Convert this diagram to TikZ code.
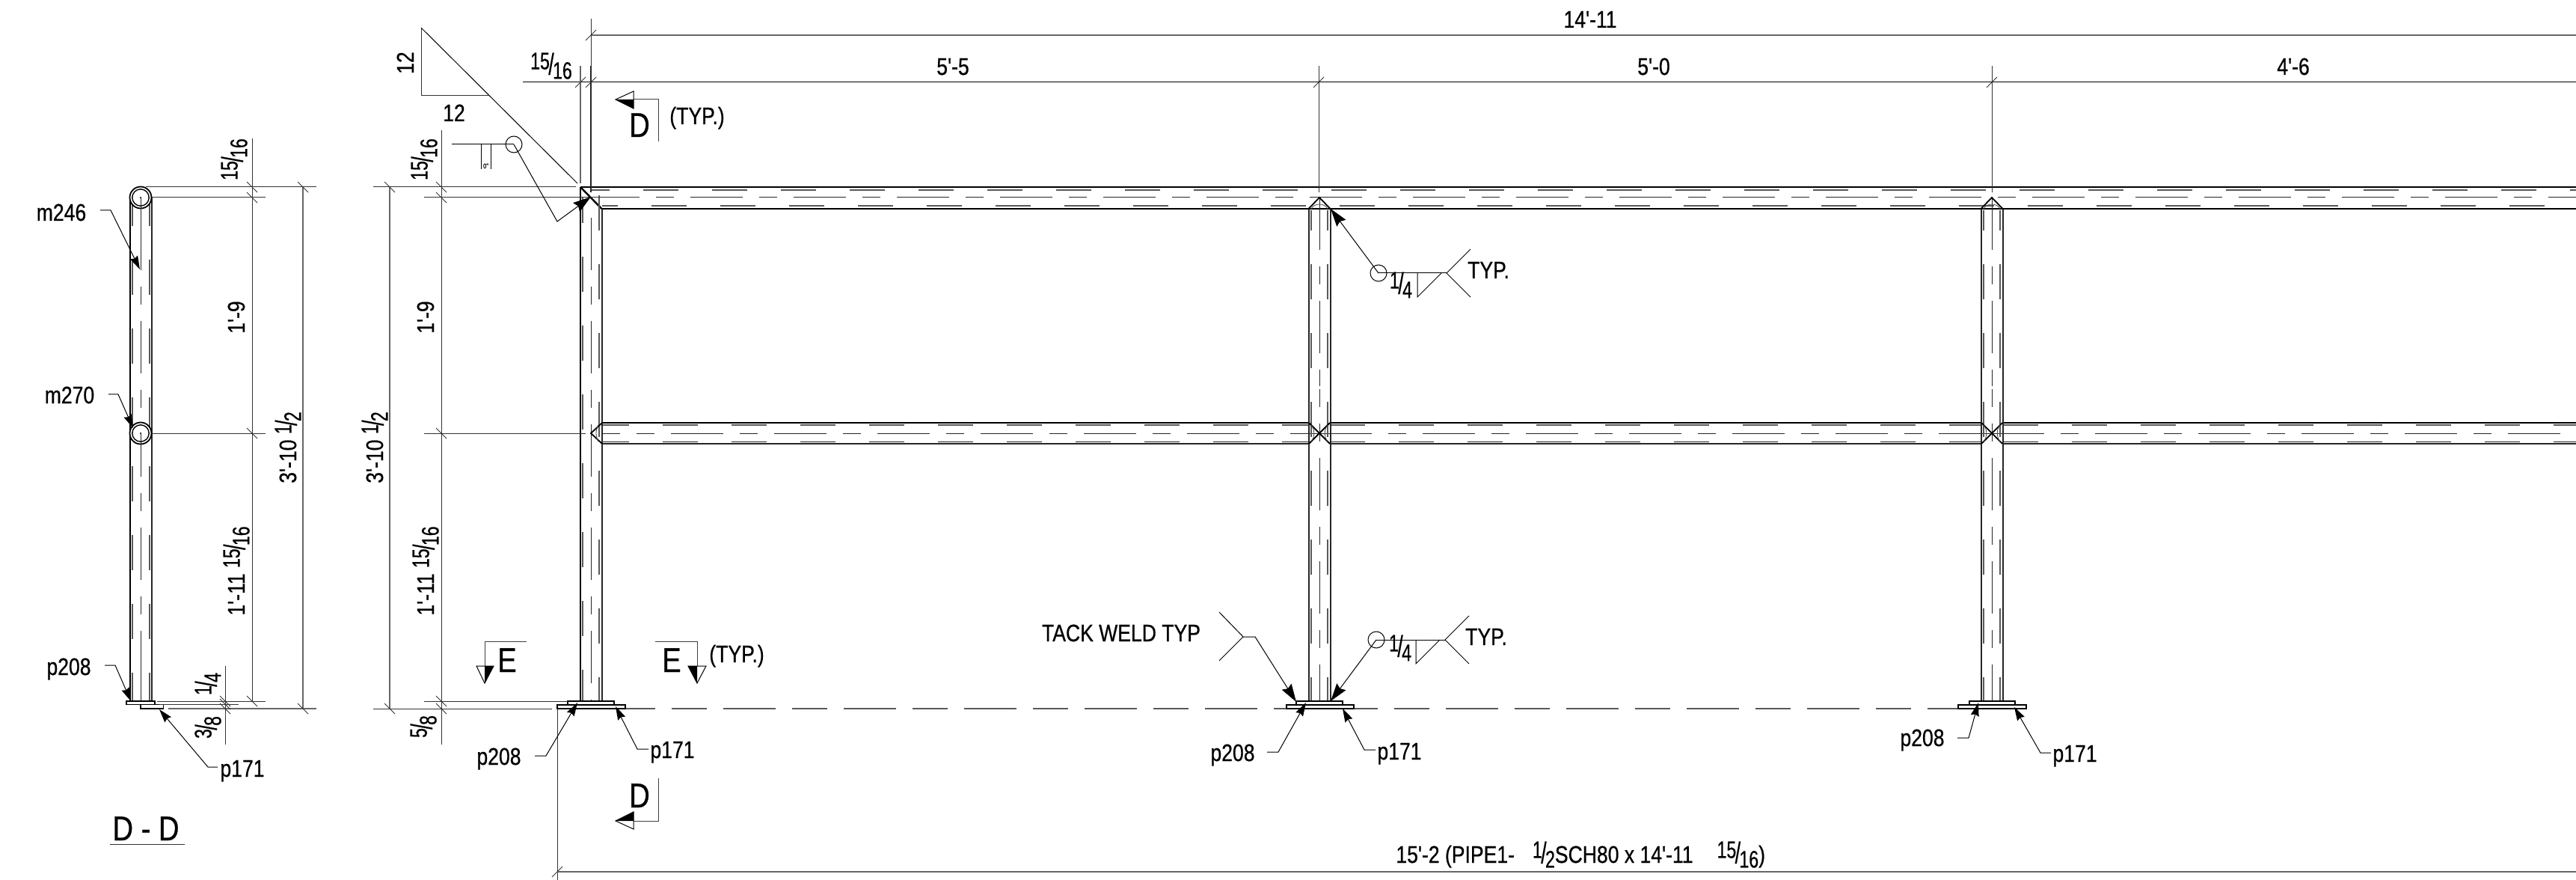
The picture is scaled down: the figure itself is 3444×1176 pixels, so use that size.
\documentclass[tikz,border=0pt]{standalone}
\usepackage{fontspec}
\usetikzlibrary{arrows.meta}
\newfontfamily\dimf[FakeStretch=0.83,FakeBold=0.6]{Liberation Sans}
\newcommand{\frc}[2]{\raisebox{.2em}{\scalebox{.87}[1]{#1}}\kern-.05em\raisebox{-.02em}{\scalebox{1}[1.25]{/}}\kern-.05em\raisebox{-.2em}{\scalebox{.87}[1]{#2}}}
\newcommand{\tkh}[2]{\draw[dimln] ({#1-7},{#2+7}) -- ({#1+7},{#2-7});}
\newcommand{\tkv}[2]{\draw[dimln] ({#1-7},{#2-7}) -- ({#1+7},{#2+7});}
\tikzset{
  lab/.style={font=\dimf\fontsize{16}{17}\selectfont,inner sep=0pt,anchor=base,text=black},
  rlab/.style={lab,rotate=90},
  big/.style={font=\dimf\fontsize{23}{25}\selectfont,inner sep=0pt,anchor=base,text=black},
  dimln/.style={line width=.5pt,black!80},
  dimg/.style={line width=.7pt,black!60},
  thinln/.style={line width=.5pt,black},
  edgethick/.style={line width=1.2pt,black},
  edgemid/.style={line width=1pt,black!85},
  hid/.style={line width=.65pt,black!65,dash pattern=on 23.5pt off 22.5pt},
  hidb/.style={line width=.45pt,black!85,dash pattern=on 23.5pt off 22.5pt},
  ctr/.style={line width=.5pt,black!85,dash pattern=on 35pt off 11pt on 12pt off 11pt},
  floorln/.style={line width=.65pt,black!65,dash pattern=on 35pt off 11pt on 23.5pt off 11pt},
  weldln/.style={line width=.9pt,black},
  arcln/.style={line width=.4pt,black!70},
  plate/.style={line width=.9pt,black,fill=white},
  lead/.style={line width=.5pt,black,-{Stealth[length=9pt,width=5.5pt,inset=1pt]}},
  leadbig/.style={line width=.5pt,black,-{Stealth[length=12pt,width=7.5pt,inset=1.5pt]}},
  secline/.style={line width=.5pt,black!75},
  tri/.style={line width=.5pt,black!80},
}
\begin{document}
\begin{tikzpicture}[x=.5pt,y=-.5pt]
\useasboundingbox (0,0) rectangle (3444,1176);
\clip (0,0) rectangle (3444,1176);

%%%%% section D-D
\draw[hid,dash phase=4.5pt] (177,264) -- (177,937);
\draw[hid,dash phase=4.5pt] (200,264) -- (200,937);
\draw[ctr,dash phase=55.5pt] (188,264) -- (188,937);
\draw[ctr] (188,913) -- (188,937);
\draw[edgethick] (174,264) -- (174,937);
\draw[edgemid] (203,264) -- (203,937);
\foreach \cy in {264,579}{
  \draw[line width=.9pt,fill=white] (188,\cy) circle[radius=7.25pt];
  \draw[line width=.7pt] (188,\cy) circle[radius=5.6pt];
  \fill (188,\cy) circle[radius=.6pt];
}
\draw[ctr,dash pattern=] (188,264) -- (188,361);
\draw[ctr,dash pattern=] (188,579) -- (188,637);
\draw[plate] (169,937) rectangle (207,941.5);
\draw[plate] (188,941.5) rectangle (218.5,947);

\draw[dimln] (195,250) -- (423,250);
\draw[dimln] (203,264) -- (355,264);
\draw[dimln] (203,579) -- (355,579);
\draw[dimln] (210,937) -- (355,937);
\draw[dimln] (213,941) -- (319,941);
\draw[dimg] (225,947) -- (423,947);
\draw[dimln] (337,185) -- (337,937);
\draw[dimg] (405,250) -- (405,947);
\draw[dimln] (301,890) -- (301,995);
\tkv{337}{250}\tkv{337}{264}\tkv{337}{579}\tkv{337}{937}\tkv{405}{250}\tkv{405}{947}
\tkv{301}{937}\tkv{301}{941}\tkv{301}{947}

\node[lab] (tm246) at (82,295) {m246};
\draw[lead] (134,281) -- (148,281) -- (187,360);
\node[lab] (tm270) at (93,539) {m270};
\draw[lead] (145,527) -- (158,527) -- (178,572);
\node[lab] (tpa) at (92,902) {p208};
\draw[lead] (140,889) -- (154,889) -- (175,937);
\node[lab] (tpb) at (324,1038) {p171};
\draw[lead] (291,1025) -- (278,1025) -- (213,948);

\node[rlab] (d1) at (324,213) {\frc{15}{16}};
\node[rlab] (d2) at (327,424) {1'-9};
\node[rlab] (d3) at (327,763) {1'-11 \frc{15}{16}};
\node[rlab] (d4) at (396,598) {3'-10 \frc{1}{2}};
\node[rlab] (d5) at (289,914) {\frc{1}{4}};
\node[rlab] (d6) at (289,972) {\frc{3}{8}};
\node[big] (ttl) at (195,1123) {D - D};
\draw[dimln] (147,1128) -- (247,1128);

%%%%% main elevation : rails
\draw[hid,dash phase=11pt] (790,254) -- (3444,254);
\draw[hid,dash phase=13pt] (805,275) -- (3444,275);
\draw[ctr] (785,264) -- (3444,264);
\draw[edgethick,line width=1.3pt] (776,250) -- (3444,250);
\draw[edgethick,line width=1.3pt] (804.5,279) -- (3444,279);
\draw[edgethick] (776,250) -- (804.5,279);

% middle rail
\draw[hid,dash phase=5.5pt] (805,568) -- (1750,568);
\draw[hidb,dash phase=5.5pt] (805,590) -- (1750,590);
\draw[ctr,dash phase=23pt] (805,579) -- (1764,579);
\draw[hid] (1778,568) -- (2649,568);
\draw[hidb] (1778,590) -- (2649,590);
\draw[ctr] (1764,579) -- (2663,579);
\draw[hid] (2678,568) -- (3444,568);
\draw[hidb] (2678,590) -- (3444,590);
\draw[ctr] (2663,579) -- (3444,579);
\draw[edgethick] (805,565) -- (1750,565);
\draw[edgemid] (805,593) -- (1750,593);
\draw[edgethick] (1778,565) -- (2649,565);
\draw[edgemid] (1778,593) -- (2649,593);
\draw[edgethick] (2678,565) -- (3444,565);
\draw[edgemid] (2678,593) -- (3444,593);

% post 1
\draw[hid,dash phase=6.5pt] (779,264) -- (779,937);
\draw[hid] (801,261) -- (801,937);
\draw[ctr] (790,291) -- (790,937);
\draw[edgethick] (776,250) -- (776,937);
\draw[edgemid] (804.5,279) -- (804.5,937);
\draw[weldln] (805,565) -- (790,579) -- (805,593);
\draw[arcln] (800,568) .. controls (796,574) and (796,584) .. (800,590);

% posts 2 and 3
\foreach \px in {1764,2663}{
  \draw[hid,dash phase=10pt] ({\px-11},281) -- ({\px-11},937);
  \draw[hid,dash phase=10pt] ({\px+11},281) -- ({\px+11},937);
  \draw[ctr] (\px,264) -- (\px,516);
  \draw[ctr,dash phase=23pt] (\px,520) -- (\px,937);
  \draw[edgemid] ({\px-14.5},279) -- ({\px-14.5},937);
  \draw[edgemid] ({\px+14.5},279) -- ({\px+14.5},937);
  \draw[weldln] ({\px-14.5},279) -- (\px,264) -- ({\px+14.5},279);
  \draw[arcln] ({\px-11},279) .. controls ({\px-7},271) and ({\px+7},271) .. ({\px+11},279);
  \draw[weldln] ({\px-14},565) -- ({\px+14},593);
  \draw[weldln] ({\px-14},593) -- ({\px+14},565);
  \draw[arcln] ({\px-11},568) .. controls ({\px-6},574) and ({\px-6},584) .. ({\px-11},590);
  \draw[arcln] ({\px+11},568) .. controls ({\px+6},574) and ({\px+6},584) .. ({\px+11},590);
}

% floor line
\draw[dimln] (499,947) -- (738,947);
\draw[floorln] (806,947) -- (2618,947);
% base plates
\draw[plate] (759,937) rectangle (821,942);
\draw[plate] (745,942) rectangle (836,947);
\draw[plate] (1733,937) rectangle (1795,942);
\draw[plate] (1720,942) rectangle (1810,947);
\draw[plate] (2633,937) rectangle (2694,942);
\draw[plate] (2618,942) rectangle (2709,947);

%%%%% dimensions of the elevation
\draw[dimg] (790,47) -- (3444,47);
\draw[line width=.5pt,black] (699,110) -- (3444,110);
\draw[dimln] (790,25) -- (790,88);
\draw[edgemid,line width=.7pt] (790,88) -- (790,257);
\draw[dimg] (776,88) -- (776,245);
\draw[dimln] (1763,88) -- (1763,257);
\draw[dimln] (2663,88) -- (2663,257);
\tkh{790}{47}\tkh{776}{110}\tkh{790}{110}\tkh{1763}{110}\tkh{2663}{110}
\node[lab] (dtop) at (2126,37) {14'-11};
\node[lab] (da) at (1274,100) {5'-5};
\node[lab] (db) at (2211,100) {5'-0};
\node[lab] (dc) at (3066,100) {4'-6};
\node[lab] (dq) at (737,99) {\frc{15}{16}};

\draw[dimln] (499,250) -- (770,250);
\draw[dimln] (567,264) -- (855,264);
\draw[dimln] (567,579) -- (783,579);
\draw[dimln] (567,937) -- (759,937);
\draw[dimg] (521,250) -- (521,947);
\draw[dimln] (590,174) -- (590,995);
\tkv{521}{250}\tkv{521}{947}\tkv{590}{250}\tkv{590}{264}\tkv{590}{579}\tkv{590}{937}\tkv{590}{947}
\node[rlab] (m1) at (578,213) {\frc{15}{16}};
\node[rlab] (m2) at (580,424) {1'-9};
\node[rlab] (m3) at (580,763) {1'-11 \frc{15}{16}};
\node[rlab] (m4) at (512,598) {3'-10 \frc{1}{2}};
\node[rlab] (m5) at (577,971) {\frc{5}{8}};

\draw[dimln] (745,947) -- (745,1176);
\draw[dimg] (745,1165) -- (3444,1165);
\tkh{745}{1165}
\node[lab,anchor=base west] (plong) at (1866,1153) {15'-2 (PIPE1-\hspace{.75em}\frc{1}{2}SCH80 x 14'-11\hspace{1em}\frc{15}{16})};

%%%%% slope triangle
\draw[tri] (563,37) -- (563,128) -- (653,128);
\draw[thinln] (563,37) -- (772,245);
\node[rlab] (s1) at (553,84) {12};
\node[lab] (s2) at (607,162) {12};

%%%%% mitre weld symbol
\draw[thinln] (604,193) -- (687,193);
\draw[thinln] (687,193) circle[radius=5.5pt];
\draw[thinln] (643,193) -- (643,226);
\draw[thinln] (656,193) -- (656,226);
\node[font=\dimf\fontsize{4.6}{5}\selectfont,inner sep=0pt,anchor=base] (w0) at (649.5,225) {0"};
\draw[leadbig] (687,193) -- (745,296) -- (790,263);

%%%%% section marks D
\draw[secline] (847,133) -- (880,133) -- (880,189);
\draw[thinln] (823,133) -- (847,122) -- (847,145) -- cycle;
\fill (823,133) -- (847,133) -- (847,145) -- cycle;
\node[big] (dmark) at (855,183) {D};
\node[lab] (dtyp) at (932,166) {(TYP.)};
\draw[secline] (847,1097) -- (880,1097) -- (880,1040);
\draw[thinln] (823,1097) -- (847,1085) -- (847,1108) -- cycle;
\fill (823,1097) -- (847,1085) -- (847,1097) -- cycle;
\node[big] (dmarkb) at (855,1079) {D};

%%%%% section marks E
\draw[secline] (704,857) -- (648,857) -- (648,890);
\draw[thinln] (637,890) -- (660,890) -- (648,913) -- cycle;
\fill (648,890) -- (660,890) -- (648,913) -- cycle;
\node[big] (emark) at (678,898) {E};
\draw[secline] (876,857) -- (932,857) -- (932,890);
\draw[thinln] (920,890) -- (944,890) -- (932,913) -- cycle;
\fill (920,890) -- (932,890) -- (932,913) -- cycle;
\node[big] (emarkb) at (898,898) {E};
\node[lab] (etyp) at (985,885) {(TYP.)};

%%%%% labels of posts
\node[lab] (p1a) at (667,1022) {p208};
\draw[lead] (715,1010) -- (730,1010) -- (772,939);
\node[lab] (p1b) at (899,1013) {p171};
\draw[lead] (867,1001) -- (852,1001) -- (823,944);
\node[lab] (p2a) at (1648,1017) {p208};
\draw[lead] (1694,1005) -- (1709,1005) -- (1746,939);
\node[lab] (p2b) at (1871,1015) {p171};
\draw[lead] (1839,1002) -- (1824,1002) -- (1795,947);
\node[lab] (p3a) at (2570,997) {p208};
\draw[lead] (2617,986) -- (2632,986) -- (2645,939);
\node[lab] (p3b) at (2774,1018) {p171};
\draw[lead] (2742,1006) -- (2728,1006) -- (2693,945);

%%%%% weld symbols post 2
\draw[thinln] (1843,365) circle[radius=5.5pt];
\draw[thinln] (1843,365) -- (1934,365);
\draw[thinln] (1895,365) -- (1895,397) -- (1927,365);
\draw[thinln] (1966,333) -- (1934,365) -- (1966,397);
\draw[leadbig] (1843,365) -- (1779,279);
\node[lab] (wt1) at (1990,372) {TYP.};
\node[lab] (wq1) at (1873,392) {\frc{1}{4}};

\draw[thinln] (1840,855) circle[radius=5.5pt];
\draw[thinln] (1840,855) -- (1932,855);
\draw[thinln] (1893,855) -- (1893,887) -- (1925,855);
\draw[thinln] (1964,823) -- (1932,855) -- (1964,887);
\draw[leadbig] (1840,855) -- (1779,937);
\node[lab] (wt2) at (1987,862) {TYP.};
\node[lab] (wq2) at (1872,877) {\frc{1}{4}};

\draw[thinln] (1630,818) -- (1662,851) -- (1630,883);
\draw[leadbig] (1662,851) -- (1678,851) -- (1733,938);
\node[lab] (tack) at (1499,857) {TACK WELD TYP};
\end{tikzpicture}
\end{document}
